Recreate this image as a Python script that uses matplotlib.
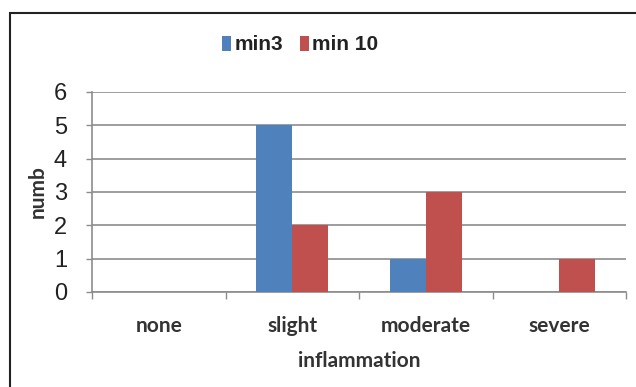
import matplotlib
matplotlib.use("Agg")
import matplotlib.pyplot as plt
import numpy as np
from matplotlib.patches import Rectangle

categories = ["none", "slight", "moderate", "severe"]
min3 = [0, 5, 1, 0]
min10 = [0, 2, 3, 1]
series_names = ["min3", "min 10"]
yticks = [0, 1, 2, 3, 4, 5, 6]

blue = "#4F81BD"
red = "#C0504D"
grid_c = "#8c8c8c"
lab_font = dict(fontsize=15, fontweight="bold", family="Lato", color="#333333")

fig = plt.figure(figsize=(6.36, 3.87), dpi=100)
ax = fig.add_axes([92 / 636, 1 - 292 / 387, (626 - 92) / 636, 200 / 387])

x = np.arange(len(categories))
width = 0.27
ax.bar(x - width / 2, min3, width, color=blue, label=series_names[0], zorder=3)
ax.bar(x + width / 2, min10, width, color=red, label=series_names[1], zorder=3)

ax.set_xlim(-0.5, len(categories) - 0.5)
ax.set_ylim(0, 6)
ax.set_yticks(yticks)
ax.set_yticklabels([str(v) for v in yticks], fontsize=17, family="Liberation Sans", color="#222222")
ax.yaxis.grid(True, color=grid_c, linewidth=1.2, zorder=0)
ax.tick_params(axis="y", length=4, color=grid_c, width=1, pad=14)

# category labels centred, tick marks on the boundaries
ax.set_xticks(x)
ax.set_xticklabels(categories, **lab_font)
ax.tick_params(axis="x", which="major", length=0, pad=17)
ax.set_xticks(np.arange(len(categories) + 1) - 0.5, minor=True)
ax.tick_params(axis="x", which="minor", length=5, color=grid_c, width=1, direction="out")

for side in ["top", "right"]:
    ax.spines[side].set_visible(False)
for side in ["left", "bottom"]:
    ax.spines[side].set_color(grid_c)
    ax.spines[side].set_linewidth(1.2)

ax.set_xlabel("inflammation", labelpad=11, **lab_font)
ax.set_ylabel("numb", labelpad=4, **lab_font)

ax.legend(loc="center", bbox_to_anchor=((300 - 92) / 534, (292 - 45) / 200), ncol=2, frameon=False,
          prop={"family": "Liberation Sans", "weight": "bold", "size": 15},
          handlelength=0.45, handleheight=0.75, handletextpad=0.15, columnspacing=0.8,
          labelcolor="#222222")

fig.add_artist(Rectangle((10 / 636, -0.1), 1.0, 1 - 13 / 387 + 0.1, transform=fig.transFigure,
                         fill=False, edgecolor="#222222", linewidth=1.5))

fig.savefig("out.png", dpi=100)
